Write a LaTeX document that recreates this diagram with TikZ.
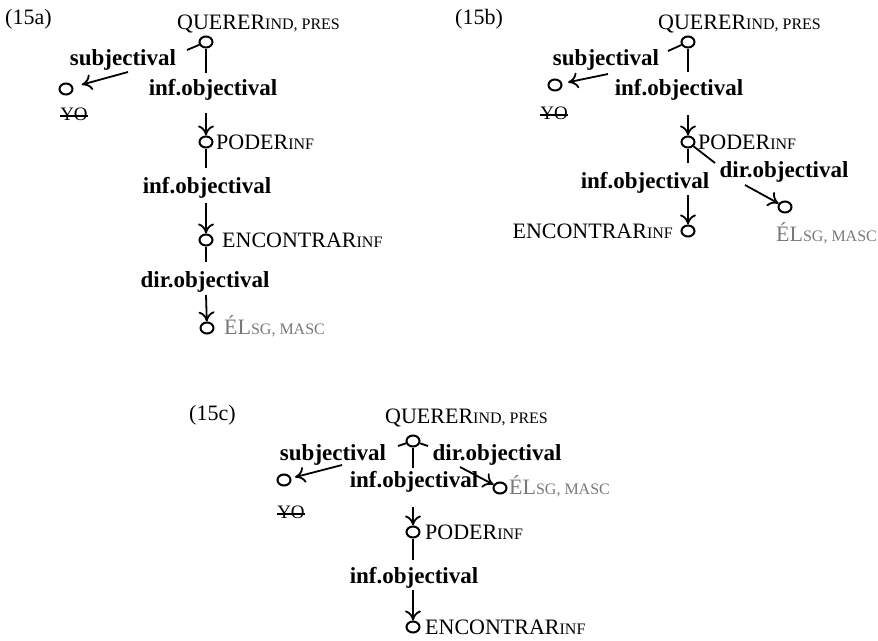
\documentclass[tikz,border=0pt]{standalone}
\usepackage{fontspec}
\setmainfont{Liberation Serif}
\usetikzlibrary{arrows.meta,shapes.geometric}
\definecolor{elgray}{gray}{0.47}
\newcommand{\fsc}[1]{{\fontsize{16}{19}\selectfont #1}}
\begin{document}
\begin{tikzpicture}[x=1pt,y=-1pt,
  font=\fontsize{22}{26}\selectfont,
  vtx/.style={draw, ellipse, line width=2pt, minimum width=13pt, minimum height=11pt, inner sep=0pt},
  word/.style={inner sep=0pt, anchor=base west},
  wordr/.style={inner sep=0pt, anchor=base east},
  rel/.style={font=\fontsize{23}{27}\selectfont\bfseries, inner sep=0pt, anchor=base},
  ln/.style={line width=1.8pt},
  arr/.style={line width=1.8pt, -{To[length=10pt,width=16pt,line width=1.8pt]}},
  gr/.style={text=elgray},
  yo/.style={inner sep=0pt, font=\fontsize{19}{22}\selectfont},
  strike/.style={line width=1.3pt}]
\useasboundingbox (0,0) rectangle (878,640);

% ================= (15a)
\node[word] (tA) at (5,24) {(15a)};
\node[word] (qA) at (177,29) {QUERER\fsc{IND, PRES}};
\node[vtx] (cQA) at (206,42) {};
\node[vtx] (cYA) at (66,89) {};
\node[yo] (yA) at (74,114) {YO};
\draw[strike] ([yshift=-2pt]yA.west) -- ([yshift=-2pt]yA.east);
\coordinate (sA1) at (187,50);
\coordinate (sA2) at (128,72);
\draw[ln] (cQA) -- (sA1);
\draw[arr, shorten >=9pt] (sA2) -- (cYA);
\node[rel] (lsA) at (123,65) {subjectival};
\coordinate (iA1) at (206,73);
\coordinate (iA2) at (206,113);
\node[vtx] (cPA) at (206,142) {};
\draw[ln] (cQA) -- (iA1);
\draw[arr] (iA2) -- (cPA);
\node[rel] (liA) at (213,95) {inf.objectival};
\node[word] (pA) at (216,149) {PODER\fsc{INF}};
\coordinate (iA3) at (206,168);
\coordinate (iA4) at (206,203);
\node[vtx] (cEA) at (206,240) {};
\draw[ln] (cPA) -- (iA3);
\draw[arr] (iA4) -- (cEA);
\node[rel] (liA2) at (207,193) {inf.objectival};
\node[word] (eA) at (222,247) {ENCONTRAR\fsc{INF}};
\coordinate (dA1) at (206,262);
\coordinate (dA2) at (206,295);
\node[vtx] (cLA) at (207,328) {};
\draw[ln] (cEA) -- (dA1);
\draw[arr] (dA2) -- (cLA);
\node[rel] (ldA) at (205,287) {dir.objectival};
\node[word, gr] (elA) at (224,334) {ÉL\fsc{SG, MASC}};

% ================= (15b)
\node[word] (tB) at (455,24) {(15b)};
\node[word] (qB) at (658,29) {QUERER\fsc{IND, PRES}};
\node[vtx] (cQB) at (688,42) {};
\node[vtx] (cYB) at (555,85) {};
\node[yo] (yB) at (554,113) {YO};
\draw[strike] ([yshift=-2pt]yB.west) -- ([yshift=-2pt]yB.east);
\coordinate (sB1) at (668,51);
\coordinate (sB2) at (608,74);
\draw[ln] (cQB) -- (sB1);
\draw[arr, shorten >=6pt] (sB2) -- (cYB);
\node[rel] (lsB) at (606,65) {subjectival};
\coordinate (iB1) at (688,72);
\coordinate (iB2) at (688,115);
\node[vtx] (cPB) at (688,142) {};
\draw[ln] (cQB) -- (iB1);
\draw[arr] (iB2) -- (cPB);
\node[rel] (liB) at (679,95) {inf.objectival};
\node[word] (pB) at (698,149) {PODER\fsc{INF}};
\coordinate (iB3) at (688,163);
\coordinate (iB4) at (688,195);
\node[vtx] (cEB) at (688,231) {};
\draw[ln] (cPB) -- (iB3);
\draw[arr] (iB4) -- (cEB);
\node[rel] (liB2) at (645,188) {inf.objectival};
\node[wordr] (eB) at (673,238) {ENCONTRAR\fsc{INF}};
\coordinate (dB1) at (715,163);
\coordinate (dB2) at (745,185);
\node[vtx] (cLB) at (785,207) {};
\draw[ln] (cPB) -- (dB1);
\draw[arr] (dB2) -- (cLB);
\node[rel] (ldB) at (784,177) {dir.objectival};
\node[word, gr] (elB) at (776,241) {ÉL\fsc{SG, MASC}};

% ================= (15c)
\node[word] (tC) at (189,420) {(15c)};
\node[word] (qC) at (385,423) {QUERER\fsc{IND, PRES}};
\node[vtx] (cQC) at (413,441) {};
\node[vtx] (cYC) at (284,480) {};
\node[yo] (yC) at (291,512) {YO};
\draw[strike] ([yshift=-2pt]yC.west) -- ([yshift=-2pt]yC.east);
\coordinate (sC1) at (398,446);
\coordinate (sC2) at (342,465);
\draw[ln] (cQC) -- (sC1);
\draw[arr, shorten >=4pt] (sC2) -- (cYC);
\node[rel] (lsC) at (333,460) {subjectival};
\coordinate (dC1) at (428,446);
\coordinate (dC2) at (460,467);
\node[vtx] (cLC) at (500,488) {};
\draw[ln] (cQC) -- (dC1);
\draw[arr] (dC2) -- (cLC);
\node[rel] (ldC) at (497,460) {dir.objectival};
\node[word, gr] (elC) at (509,494) {ÉL\fsc{SG, MASC}};
\coordinate (iC1) at (413,468);
\coordinate (iC2) at (413,507);
\node[vtx] (cPC) at (413,532) {};
\draw[ln] (cQC) -- (iC1);
\draw[arr] (iC2) -- (cPC);
\node[rel] (liC) at (414,487) {inf.objectival};
\node[word] (pC) at (425,539) {PODER\fsc{INF}};
\coordinate (iC3) at (413,560);
\coordinate (iC4) at (413,590);
\node[vtx] (cEC) at (413,627) {};
\draw[ln] (cPC) -- (iC3);
\draw[arr] (iC4) -- (cEC);
\node[rel] (liC2) at (414,583) {inf.objectival};
\node[word] (eC) at (425,634) {ENCONTRAR\fsc{INF}};
\end{tikzpicture}
\end{document}
